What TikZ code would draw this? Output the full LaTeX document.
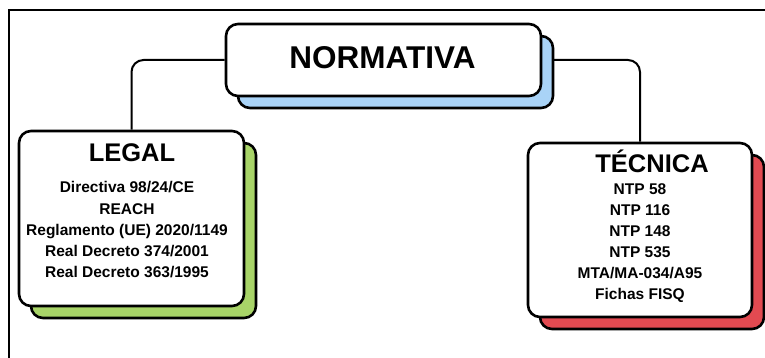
\documentclass[tikz,border=0pt]{standalone}
\usepackage{fontspec}
\setmainfont{Liberation Sans}
\usetikzlibrary{shadows,backgrounds}

\definecolor{sombraazul}{RGB}{169,211,247}
\definecolor{sombraverde}{RGB}{168,212,104}
\definecolor{sombraroja}{RGB}{226,74,81}

\begin{document}
\begin{tikzpicture}[x=1pt, y=-1pt,
    caja/.style={draw=black, line width=2.6pt, fill=white, rounded corners=12pt, inner sep=0pt},
    sombra/.style={copy shadow={shadow xshift=12pt, shadow yshift=-12pt, fill=#1, draw=black, line width=2.6pt}},
    titulo/.style={anchor=base, font=\bfseries\fontsize{25.5}{30}\selectfont},
    item/.style={anchor=base, font=\bfseries\fontsize{15.5}{21}\selectfont},
    enlace/.style={line width=2pt, rounded corners=12pt}]
  \useasboundingbox (0,0) rectangle (765,358);
  \draw[line width=2pt] (765,10) -- (9,10) -- (9,358);

  % cajas
  \node[caja, sombra=sombraazul, minimum width=315pt, minimum height=72pt] (norm) at (383.5,60) {};
  \node[caja, sombra=sombraverde, minimum width=225pt, minimum height=175pt] (legal) at (131.5,218.5) {};
  \node[caja, sombra=sombraroja, minimum width=224pt, minimum height=174pt] (tec) at (640,230) {};

  % titulos
  \node[titulo, font=\bfseries\fontsize{31.5}{36}\selectfont] (normtit) at (382.5,69) {NORMATIVA};
  \node[titulo] (legaltit) at (132,162) {LEGAL};
  \node[titulo] (tectit) at (652,173) {TÉCNICA};

  % listas
  \foreach \txt [count=\i] in {Directiva 98/24/CE, REACH, Reglamento (UE) 2020/1149, Real Decreto 374/2001, Real Decreto 363/1995}
    \node[item] (legal\i) at (127,172+21*\i) {\txt};
  \foreach \txt [count=\i] in {NTP 58, NTP 116, NTP 148, NTP 535, MTA/MA-034/A95, Fichas FISQ}
    \node[item] (tec\i) at (640,173+21*\i) {\txt};

  \begin{scope}[on background layer]
    \draw[enlace] (norm.west) -| (legal.north);
    \draw[enlace] (norm.east) -| (tec.north);
  \end{scope}
\end{tikzpicture}
\end{document}
